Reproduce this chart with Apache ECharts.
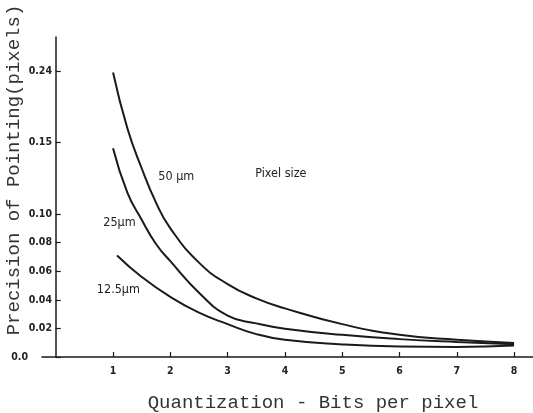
<!DOCTYPE html>
<html>
<head>
<meta charset="utf-8">
<style>
  html, body { margin: 0; padding: 0; background: #ffffff; }
  #chart { width: 533px; height: 413px; }
</style>
<script src="https://cdn.jsdelivr.net/npm/echarts@6/dist/echarts.min.js"></script>
</head>
<body>
<div id="chart"></div>
<script>
// Quantization (bits per pixel) on the x axis
const xTicks = [1, 2, 3, 4, 5, 6, 7, 8];

// Y ticks and the labels printed at them
const yTicks = [0, 0.02, 0.04, 0.06, 0.08, 0.10, 0.15, 0.20];
const yTickLabels = ['0.0', '0.02', '0.04', '0.06', '0.08', '0.10', '0.15', '0.24'];

// Precision of pointing vs. bits per pixel, one curve per pixel size
const bits50 = [1, 1.25, 1.5, 1.75, 2, 2.5, 3, 3.5, 4, 5, 6, 7, 8];
const prec50 = [0.199, 0.160, 0.132, 0.108, 0.090, 0.066, 0.051, 0.041, 0.034, 0.023, 0.0155, 0.012, 0.0098];

const bits25 = [1, 1.25, 1.5, 1.75, 2, 2.5, 3, 3.5, 4, 5, 6, 7, 8];
const prec25 = [0.146, 0.115, 0.096, 0.079, 0.067, 0.045, 0.029, 0.0235, 0.0198, 0.0155, 0.0125, 0.0105, 0.009];

const bits12 = [1.07, 1.5, 2, 2.5, 3, 3.5, 4, 5, 6, 7, 8];
const prec12 = [0.071, 0.056, 0.042, 0.031, 0.023, 0.016, 0.012, 0.0088, 0.0073, 0.007, 0.008];

const curveNames = ['50 µm', '25µm', '12.5µm'];

function pairs(xs, ys) { return xs.map((x, i) => [x, ys[i]]); }

const ink = '#1a1a1a';
const tickFont = "'DejaVu Sans Condensed', 'DejaVu Sans', sans-serif";
const titleFont = "'Liberation Mono', 'DejaVu Sans Mono', monospace";

function curve(name, data, tag) {
  return {
    name: name,
    type: 'line',
    data: data,
    smooth: 0.5,
    showSymbol: false,
    symbol: 'none',
    lineStyle: { color: ink, width: 2 },
    silent: true,
    markPoint: tag
  };
}

function tag(coord, text, pos) {
  return {
    symbol: 'circle',
    symbolSize: 0,
    silent: true,
    data: [{
      coord: coord,
      label: {
        show: true,
        formatter: text,
        position: pos,
        distance: 0,
        color: '#222',
        fontFamily: tickFont,
        fontSize: 12.5
      }
    }]
  };
}

const chart = echarts.init(document.getElementById('chart'), null, { renderer: 'canvas' });

chart.setOption({
  backgroundColor: '#ffffff',
  animation: false,
  grid: { left: 42, right: 0, top: 37, bottom: 56, containLabel: false },
  xAxis: {
    type: 'value',
    min: -0.24,
    max: 8.33,
    axisLine: { show: true, onZero: false, lineStyle: { color: ink, width: 1.5 } },
    axisTick: { show: true, inside: true, length: 5, customValues: xTicks, lineStyle: { color: ink, width: 1.2 } },
    axisLabel: {
      customValues: xTicks,
      margin: 9,
      color: '#222',
      fontFamily: tickFont,
      fontWeight: 'bold',
      fontSize: 10.5
    },
    splitLine: { show: false }
  },
  yAxis: {
    type: 'value',
    min: 0,
    max: 0.2238,
    axisLine: { show: true, onZero: true, lineStyle: { color: ink, width: 1.5 } },
    axisTick: { show: true, inside: true, length: 5, customValues: yTicks, lineStyle: { color: ink, width: 1.2 } },
    axisLabel: {
      customValues: yTicks,
      // labels sit just left of the y axis line, which is drawn at x = 0
      margin: -10,
      color: '#222',
      fontFamily: tickFont,
      fontWeight: 'bold',
      fontSize: 10.5,
      formatter: function (v) {
        for (let i = 0; i < yTicks.length; i++) {
          if (Math.abs(yTicks[i] - v) < 1e-6) {
            // the origin label stands clear of the x axis line
            return i === 0 ? '{origin|' + yTickLabels[i] + '}' : yTickLabels[i];
          }
        }
        return '';
      },
      rich: {
        origin: {
          padding: [0, 24, 0, 0],
          color: '#222',
          fontFamily: tickFont,
          fontWeight: 'bold',
          fontSize: 10.5
        }
      }
    },
    splitLine: { show: false }
  },
  series: [
    curve(curveNames[0], pairs(bits50, prec50), tag([1.79, 0.126], curveNames[0], 'right')),
    curve(curveNames[1], pairs(bits25, prec25), tag([0.83, 0.094], curveNames[1], 'right')),
    curve(curveNames[2], pairs(bits12, prec12), tag([1.47, 0.047], curveNames[2], 'left')),
    {
      type: 'line',
      data: [],
      silent: true,
      markPoint: tag([3.48, 0.128], 'Pixel size', 'right')
    }
  ],
  graphic: [
    {
      type: 'text',
      x: 313,
      y: 403,
      style: {
        text: 'Quantization - Bits per pixel',
        fill: '#333',
        font: "19px " + titleFont,
        align: 'center',
        verticalAlign: 'middle'
      }
    },
    {
      type: 'text',
      x: 14,
      y: 170,
      rotation: Math.PI / 2,
      style: {
        text: 'Precision of Pointing(pixels)',
        fill: '#333',
        font: "19px " + titleFont,
        align: 'center',
        verticalAlign: 'middle'
      }
    }
  ]
});
</script>
</body>
</html>
